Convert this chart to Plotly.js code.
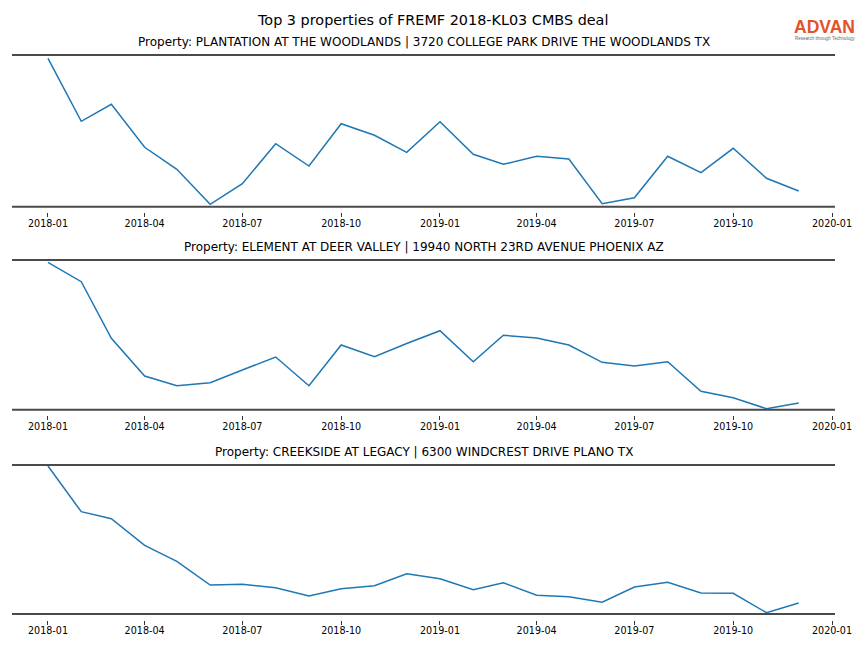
<!DOCTYPE html>
<html>
<head>
<meta charset="utf-8">
<script src="https://cdn.plot.ly/plotly-3.0.1.min.js"></script>
<style>html,body{margin:0;padding:0;background:#fff;}#chart{width:864px;height:648px;}</style>
</head>
<body>
<div id="chart"></div>
<script>
// ---- data ----
const months = ['2018-01-01','2018-02-01','2018-03-01','2018-04-01','2018-05-01','2018-06-01',
  '2018-07-01','2018-08-01','2018-09-01','2018-10-01','2018-11-01','2018-12-01',
  '2019-01-01','2019-02-01','2019-03-01','2019-04-01','2019-05-01','2019-06-01',
  '2019-07-01','2019-08-01','2019-09-01','2019-10-01','2019-11-01','2019-12-01'];
const plantation = [148.4, 85.4, 102.4, 59.4, 37.4, 2.4, 23.0, 63.0, 40.7, 83.0, 71.4, 54.4,
  85.0, 52.4, 42.4, 50.4, 47.7, 3.0, 9.0, 50.4, 34.0, 58.4, 28.4, 15.7];
const element = [147.4, 128.0, 71.4, 33.7, 24.0, 27.0, 39.7, 52.7, 24.0, 64.7, 53.0, 66.2,
  79.0, 48.0, 74.4, 71.7, 64.7, 47.4, 43.7, 48.0, 18.4, 12.0, 1.0, 6.7];
const creekside = [148.0, 102.3, 95.3, 68.7, 52.7, 29.0, 29.7, 26.3, 18.0, 25.3, 28.3, 40.3,
  35.3, 24.3, 31.3, 18.7, 17.3, 11.7, 27.0, 31.7, 21.0, 20.7, 1.3, 11.0];
const tickVals = ['2018-01-01','2018-04-01','2018-07-01','2018-10-01','2019-01-01',
  '2019-04-01','2019-07-01','2019-10-01','2020-01-01'];
const tickText = ['2018-01','2018-04','2018-07','2018-10','2019-01','2019-04','2019-07','2019-10','2020-01'];
const mainTitle = 'Top 3 properties of FREMF 2018-KL03 CMBS deal';
const subTitles = [
  'Property: PLANTATION AT THE WOODLANDS | 3720 COLLEGE PARK DRIVE THE WOODLANDS TX',
  'Property: ELEMENT AT DEER VALLEY | 19940 NORTH 23RD AVENUE PHOENIX AZ',
  'Property: CREEKSIDE AT LEGACY | 6300 WINDCREST DRIVE PLANO TX'
];
const series = [plantation, element, creekside];

// ---- layout geometry (pixels) ----
const W = 864, H = 648;
const xL = 12, xR = 835;
const panels = [
  {top: 55, bottom: 206.7, yMax: 151.7},
  {top: 260, bottom: 409.7, yMax: 149.7},
  {top: 465, bottom: 614, yMax: 149}
];
const py = v => 1 - v / H;
const px = v => v / W;
const FONT = 'DejaVu Sans, sans-serif';

const data = [];
const layout = {
  width: W, height: H,
  margin: {l: 0, r: 0, t: 0, b: 0},
  paper_bgcolor: '#ffffff', plot_bgcolor: '#ffffff',
  showlegend: false,
  font: {family: FONT, color: '#000'},
  shapes: [], annotations: []
};

panels.forEach((p, i) => {
  const n = i + 1;
  const xa = 'xaxis' + (n === 1 ? '' : n);
  const ya = 'yaxis' + (n === 1 ? '' : n);
  data.push({
    x: months, y: series[i], type: 'scatter', mode: 'lines',
    line: {color: '#1f77b4', width: 1.5},
    xaxis: 'x' + (n === 1 ? '' : n), yaxis: 'y' + (n === 1 ? '' : n),
    hoverinfo: 'skip'
  });
  layout[xa] = {
    type: 'date',
    domain: [px(xL), px(xR)],
    range: ['2017-11-28 12:00', '2020-01-03 19:00'],
    anchor: 'free', position: py(p.bottom + 5.5),
    showgrid: false, zeroline: false, showline: false,
    ticks: 'outside', ticklen: 4, tickwidth: 1, tickcolor: '#333',
    ticklabelstandoff: -2,
    tickvals: tickVals, ticktext: tickText,
    tickfont: {family: FONT, size: 9.6, color: '#000'}
  };
  layout[ya] = {
    domain: [py(p.bottom), py(p.top)],
    range: [0, p.yMax],
    anchor: 'x' + (n === 1 ? '' : n),
    showgrid: false, zeroline: false, showline: false,
    showticklabels: false, ticks: ''
  };
  // spines
  [p.top, p.bottom].forEach(yy => {
    layout.shapes.push({
      type: 'line', xref: 'paper', yref: 'paper',
      x0: px(xL), x1: px(xR), y0: py(yy), y1: py(yy),
      line: {color: '#4a4a4a', width: 2}
    });
  });
  layout.annotations.push({
    text: subTitles[i], xref: 'paper', yref: 'paper',
    x: px((xL + xR) / 2), y: py(p.top - 13), xanchor: 'center', yanchor: 'middle',
    showarrow: false, font: {family: FONT, size: 12, color: '#000'}
  });
});

layout.annotations.push({
  text: mainTitle, xref: 'paper', yref: 'paper',
  x: 0.5, y: py(20), xanchor: 'center', yanchor: 'middle',
  showarrow: false, font: {family: FONT, size: 14.4, color: '#000'}
});
// logo
layout.annotations.push({
  text: 'ADVAN', xref: 'paper', yref: 'paper',
  x: px(824.5), y: py(27), xanchor: 'center', yanchor: 'middle',
  showarrow: false, font: {family: 'Liberation Sans, Arial, sans-serif', size: 17.5, weight: 'bold', color: '#e2532a'}
});
layout.annotations.push({
  text: 'Research through Technology', xref: 'paper', yref: 'paper',
  x: px(824.5), y: py(38.5), xanchor: 'center', yanchor: 'middle',
  showarrow: false, font: {family: 'Liberation Sans, Arial, sans-serif', size: 4.5, color: '#666'}
});

Plotly.newPlot('chart', data, layout, {staticPlot: true, displayModeBar: false});
</script>
</body>
</html>
